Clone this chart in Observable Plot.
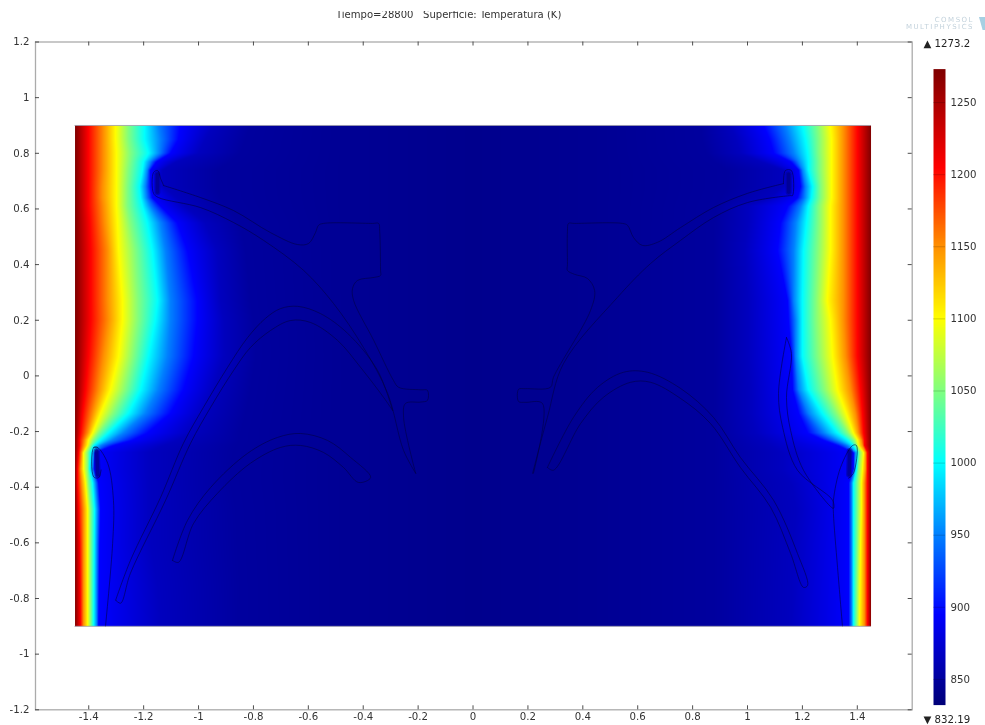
<!DOCTYPE html>
<html><head><meta charset="utf-8">
<script src="https://cdn.jsdelivr.net/npm/d3@7"></script>
<script src="https://cdn.jsdelivr.net/npm/@observablehq/plot@0.6"></script>
<style>
html,body{margin:0;padding:0;background:#fff;width:985px;height:725px;overflow:hidden}
#page{position:relative;width:985px;height:725px;font-family:"DejaVu Sans",sans-serif;filter:blur(.35px)}
#page svg{position:absolute;left:0;top:0;background:transparent}
#title{position:absolute;left:336px;top:11px;height:12px;width:240px;overflow:hidden;font-size:10.05px;color:#333;white-space:pre}
#title span{position:absolute;top:-2.5px;left:0}
.wm{position:absolute;color:#c3d2dc;white-space:pre;font-size:7px;letter-spacing:1.5px;right:11px;line-height:7px}
#logo{position:absolute;left:979px;top:17px;width:6px;height:13px;background:#a6cfe2;clip-path:polygon(0 0,100% 0,100% 100%,60% 100%)}
</style></head><body>
<div id="page">
<div id="title"><span>Tiempo=28800   Superficie: Temperatura (K)</span></div>
<div class="wm" style="top:16.5px">COMSOL</div>
<div class="wm" style="top:23.5px">MULTIPHYSICS</div>
<div id="logo"></div>
</div>
<script>
const tMin = 832.19, tMax = 1273.2;
const xTicks = [-1.4,-1.2,-1,-0.8,-0.6,-0.4,-0.2,0,0.2,0.4,0.6,0.8,1,1.2,1.4];
const yTicks = [-1.2,-1,-0.8,-0.6,-0.4,-0.2,0,0.2,0.4,0.6,0.8,1,1.2];
const barTicks = [850,900,950,1000,1050,1100,1150,1200,1250];

const colorDomain = [832.19,895,950,1000,1050,1100,1150,1205,1273.2];
const colorRange = ["#000078","#0000ff","#0080ff","#00ffff","#80ff80","#ffff00","#ff9000","#ff0000","#7f0000"];

// temperature of each isotherm read across the plate
const isoLevels = [1205,1150,1100,1050,1000,950,895,865,850];
const rowY = [0.9,0.85,0.8,0.77,0.74,0.68,0.64,0.61,0.55,0.45,0.27,0.2,0.07,-0.05,-0.135,-0.205,-0.23,-0.25,-0.275,-0.335,-0.385,-0.48,-0.6,-0.75,-0.9];
// x position of each isotherm, left side
const leftIso = [
[-1.401,-1.346,-1.302,-1.255,-1.197,-1.146,-1.066,-0.945,-0.811],
[-1.401,-1.346,-1.302,-1.255,-1.197,-1.138,-1.073,-0.975,-0.829],
[-1.401,-1.346,-1.299,-1.248,-1.182,-1.142,-1.102,-1.000,-0.847],
[-1.401,-1.346,-1.299,-1.251,-1.200,-1.175,-1.153,-1.080,-0.880],
[-1.401,-1.346,-1.299,-1.255,-1.204,-1.186,-1.175,-1.130,-0.930],
[-1.401,-1.350,-1.299,-1.259,-1.215,-1.193,-1.175,-1.130,-0.930],
[-1.401,-1.350,-1.299,-1.259,-1.211,-1.189,-1.168,-1.080,-0.920],
[-1.401,-1.346,-1.299,-1.259,-1.204,-1.175,-1.138,-1.050,-0.900],
[-1.397,-1.342,-1.295,-1.248,-1.186,-1.138,-1.077,-0.975,-0.847],
[-1.393,-1.331,-1.291,-1.230,-1.168,-1.120,-1.040,-0.931,-0.829],
[-1.393,-1.331,-1.277,-1.219,-1.149,-1.102,-1.004,-0.920,-0.811],
[-1.393,-1.328,-1.277,-1.219,-1.157,-1.102,-1.004,-0.909,-0.800],
[-1.401,-1.346,-1.291,-1.237,-1.182,-1.113,-1.018,-0.909,-0.792],
[-1.412,-1.364,-1.321,-1.266,-1.211,-1.146,-1.055,-0.945,-0.811],
[-1.423,-1.386,-1.357,-1.310,-1.255,-1.193,-1.102,-0.982,-0.829],
[-1.430,-1.404,-1.386,-1.364,-1.328,-1.273,-1.186,-1.029,-0.847],
[-1.434,-1.415,-1.401,-1.382,-1.357,-1.313,-1.237,-1.077,-0.847],
[-1.434,-1.419,-1.404,-1.393,-1.382,-1.357,-1.310,-1.127,-0.865],
[-1.437,-1.426,-1.419,-1.404,-1.393,-1.382,-1.377,-1.175,-0.875],
[-1.441,-1.430,-1.419,-1.404,-1.397,-1.386,-1.380,-1.175,-0.883],
[-1.441,-1.426,-1.412,-1.401,-1.386,-1.375,-1.364,-1.175,-0.883],
[-1.437,-1.419,-1.404,-1.393,-1.379,-1.368,-1.357,-1.175,-0.865],
[-1.433,-1.419,-1.404,-1.393,-1.380,-1.370,-1.360,-1.175,-0.860],
[-1.431,-1.419,-1.404,-1.393,-1.381,-1.371,-1.362,-1.150,-0.850],
[-1.430,-1.419,-1.404,-1.393,-1.382,-1.371,-1.364,-1.138,-0.847]
];
// x position of each isotherm, right side
const rightIso = [
[1.401,1.350,1.302,1.255,1.200,1.138,1.058,0.938,0.829],
[1.401,1.350,1.306,1.259,1.211,1.153,1.080,0.960,0.832],
[1.401,1.350,1.306,1.259,1.219,1.168,1.095,0.975,0.847],
[1.401,1.350,1.306,1.262,1.222,1.186,1.157,1.050,0.875],
[1.401,1.350,1.306,1.262,1.222,1.200,1.186,1.130,0.920],
[1.401,1.350,1.306,1.266,1.237,1.211,1.193,1.130,0.920],
[1.401,1.350,1.306,1.266,1.233,1.208,1.182,1.080,0.900],
[1.401,1.350,1.302,1.259,1.222,1.193,1.146,1.000,0.883],
[1.401,1.350,1.302,1.259,1.215,1.175,1.120,1.000,0.875],
[1.401,1.350,1.302,1.255,1.204,1.168,1.109,0.990,0.875],
[1.401,1.350,1.291,1.248,1.200,1.168,1.146,1.000,0.875],
[1.401,1.350,1.302,1.248,1.200,1.175,1.149,1.000,0.875],
[1.401,1.357,1.310,1.255,1.200,1.175,1.160,1.000,0.875],
[1.412,1.375,1.328,1.277,1.222,1.186,1.164,1.011,0.875],
[1.419,1.393,1.360,1.321,1.273,1.222,1.186,1.011,0.875],
[1.423,1.404,1.386,1.364,1.328,1.277,1.219,1.029,0.875],
[1.426,1.415,1.401,1.386,1.364,1.321,1.273,1.060,0.875],
[1.426,1.419,1.404,1.397,1.386,1.364,1.328,1.084,0.875],
[1.437,1.430,1.423,1.408,1.401,1.393,1.386,1.120,0.875],
[1.437,1.430,1.419,1.404,1.397,1.390,1.386,1.120,0.875],
[1.437,1.426,1.415,1.401,1.386,1.379,1.368,1.157,0.875],
[1.437,1.426,1.415,1.401,1.386,1.379,1.368,1.175,0.875],
[1.437,1.426,1.412,1.400,1.386,1.379,1.368,1.165,0.875],
[1.437,1.426,1.410,1.398,1.386,1.379,1.368,1.160,0.875],
[1.437,1.426,1.408,1.397,1.386,1.379,1.368,1.157,0.875]
];
const wallX = 1.45;
const midX = [0.45,0];
const midT = [845,842];

// dark spots in the notches
const notchSpots = [
 {x:[-1.371,-1.367],y:[-0.27,-0.355]},
 {x:[1.372,1.370],y:[-0.27,-0.355]},
 {x:[-1.150,-1.150],y:[0.725,0.66]},
 {x:[1.150,1.150],y:[0.725,0.66]}
];
const notchPts = notchSpots.flatMap((o,k)=>o.x.map((x,i)=>({k,x,y:o.y[i]})));

const rowOrder = rowY.map(y=>-y);
function field(x,y){
  const table = x<0 ? leftIso : rightIso, ax = Math.abs(x);
  let r = d3.bisectRight(rowOrder,-y)-1;
  r = Math.max(0,Math.min(rowY.length-2,r));
  const f = (rowY[r]-y)/(rowY[r]-rowY[r+1]);
  let px = wallX, pt = tMax;
  if (ax>=px) return pt;
  for (let i=0;i<isoLevels.length+midX.length;i++){
    let qx,qt;
    if (i<isoLevels.length){
      qx = Math.abs(table[r][i])*(1-f)+Math.abs(table[r+1][i])*f; qt = isoLevels[i];
    } else { qx = midX[i-isoLevels.length]; qt = midT[i-isoLevels.length]; }
    if (ax>=qx) return qt+(pt-qt)*(ax-qx)/(px-qx);
    px=qx; pt=qt;
  }
  return pt;
}

// geometry outlines
const outlines = [
 {x:[-1.127,-1.138,-1.149,-1.164,-1.164,-1.146,-0.993,-0.872,-0.763,-0.617,-0.508,-0.399,-0.311,-0.253,-0.209],
  y:[0.684,0.709,0.738,0.731,0.656,0.641,0.605,0.551,0.487,0.379,0.260,0.102,-0.063,-0.268,-0.350]},
 {x:[-1.127,-0.993,-0.872,-0.738,-0.639,-0.599,-0.574,-0.563,-0.545,-0.366,-0.344,-0.340,-0.337,-0.337,-0.360,-0.421,-0.439,-0.435,-0.362,-0.290,-0.271,-0.190,-0.166,-0.166,-0.190,-0.246,-0.253,-0.209],
  y:[0.684,0.641,0.594,0.515,0.472,0.476,0.515,0.541,0.548,0.548,0.548,0.520,0.380,0.361,0.354,0.343,0.314,0.271,0.128,-0.016,-0.041,-0.050,-0.052,-0.088,-0.094,-0.099,-0.149,-0.350]},
 {x:[-1.302,-1.248,-1.138,-1.055,-0.982,-0.894,-0.821,-0.756,-0.701,-0.639,-0.556,-0.457,-0.348,-0.293],
  y:[-0.806,-0.663,-0.436,-0.242,-0.113,0.031,0.138,0.207,0.242,0.250,0.224,0.153,0.020,-0.124]},
 {x:[-1.302,-1.284,-1.248,-1.120,-1.029,-0.956,-0.872,-0.811,-0.738,-0.665,-0.592,-0.494,-0.410,-0.326,-0.293],
  y:[-0.806,-0.817,-0.709,-0.447,-0.242,-0.113,0.020,0.102,0.163,0.199,0.192,0.128,0.031,-0.077,-0.124]},
 {x:[-1.095,-1.040,-0.956,-0.821,-0.712,-0.628,-0.530,-0.446,-0.373,-0.417,-0.472,-0.545,-0.628,-0.701,-0.811,-0.931,-1.018,-1.073,-1.095],
  y:[-0.663,-0.519,-0.401,-0.278,-0.221,-0.207,-0.232,-0.293,-0.365,-0.383,-0.329,-0.275,-0.250,-0.257,-0.314,-0.422,-0.530,-0.670,-0.663]},
 {x:[-1.382,-1.368,-1.331,-1.310,-1.313,-1.339],
  y:[-0.257,-0.257,-0.314,-0.447,-0.602,-0.9]},
 {x:[-1.368,-1.382,-1.382,-1.364,-1.355],
  y:[-0.257,-0.257,-0.363,-0.366,-0.338]},
 {x:[0.217,0.271,0.330,0.526,0.647,0.756,0.876,1.000,1.157,1.164,1.160,1.138,1.131],
  y:[-0.350,-0.149,0.045,0.282,0.404,0.487,0.569,0.623,0.648,0.648,0.738,0.738,0.691]},
 {x:[1.131,1.000,0.876,0.756,0.672,0.617,0.585,0.563,0.545,0.370,0.348,0.344,0.344,0.344,0.370,0.417,0.443,0.428,0.293,0.282,0.190,0.166,0.166,0.190,0.253,0.220],
  y:[0.691,0.656,0.605,0.533,0.480,0.469,0.497,0.541,0.548,0.548,0.548,0.520,0.400,0.379,0.365,0.350,0.307,0.235,-0.005,-0.041,-0.046,-0.048,-0.092,-0.095,-0.099,-0.350]},
 {x:[0.271,0.366,0.454,0.548,0.636,0.756,0.876,0.974,1.095,1.182,1.219,1.204,1.157,1.084,0.974,0.865,0.756,0.647,0.574,0.475,0.392,0.293,0.271],
  y:[-0.329,-0.149,-0.041,0.013,0.013,-0.045,-0.149,-0.293,-0.447,-0.638,-0.753,-0.760,-0.638,-0.472,-0.329,-0.171,-0.081,-0.023,-0.023,-0.077,-0.171,-0.339,-0.329]},
 {x:[1.142,1.113,1.128,1.182,1.310,1.313,1.204,1.157,1.142,1.160,1.142],
  y:[0.138,-0.063,-0.185,-0.339,-0.447,-0.476,-0.339,-0.196,-0.077,0.081,0.138]},
 {x:[1.346,1.328,1.313,1.313,1.339,1.383,1.397,1.386,1.368],
  y:[-0.9,-0.688,-0.494,-0.447,-0.329,-0.250,-0.250,-0.350,-0.368]}
];
const outlinePts = outlines.flatMap((o,k)=>o.x.map((x,i)=>({k,x,y:o.y[i]})));

const xDom = [-1.594,1.6], yDom = [-1.2,1.2];
const tickLenX = 0.0146, tickLenY = 0.0144;
const color = {type:"linear",domain:colorDomain,range:colorRange,clamp:true};
const grid = "#ababab", tickCol = "#3a3a3a";

const main = Plot.plot({
  width:985,height:725,
  marginLeft:35,marginRight:73.3,marginTop:41.5,marginBottom:15.7,
  style:{background:"transparent",fontFamily:"DejaVu Sans",fontSize:"10.2px",color:"#333"},
  x:{domain:xDom,label:null},
  y:{domain:yDom,label:null},
  color,
  marks:[
    Plot.raster({fill:field,x1:-1.45,x2:1.45,y1:-0.9,y2:0.9,pixelSize:1}),
    Plot.line(notchPts,{x:"x",y:"y",z:"k",stroke:"#00008c",strokeWidth:6,strokeOpacity:.45,strokeLinecap:"round"}),
    Plot.line(notchPts,{x:"x",y:"y",z:"k",stroke:"#00008c",strokeWidth:3.5,strokeOpacity:.7,strokeLinecap:"round"}),
    Plot.line(outlinePts,{x:"x",y:"y",z:"k",curve:"catmull-rom",stroke:"#000044",strokeWidth:1,strokeOpacity:.58}),
    Plot.ruleY([0.9,-0.9],{x1:-1.45,x2:1.45,y:d=>d,stroke:"#9a9aa8",strokeWidth:.8}),
    Plot.frame({stroke:grid,strokeWidth:1.3}),
    Plot.ruleX(xTicks,{x:d=>d,y1:-1.2,y2:-1.2+tickLenY,stroke:tickCol,strokeWidth:.9}),
    Plot.ruleX(xTicks,{x:d=>d,y1:1.2,y2:1.2-tickLenY,stroke:tickCol,strokeWidth:.9}),
    Plot.ruleY(yTicks,{y:d=>d,x1:xDom[0],x2:xDom[0]+tickLenX,stroke:tickCol,strokeWidth:.9}),
    Plot.ruleY(yTicks,{y:d=>d,x1:xDom[1],x2:xDom[1]-tickLenX,stroke:tickCol,strokeWidth:.9}),
    Plot.axisX({anchor:"bottom",ticks:xTicks,tickSize:0,tickPadding:3,tickFormat:d=>String(d),label:null}),
    Plot.axisY({anchor:"left",ticks:yTicks,tickSize:0,tickPadding:6,tickFormat:d=>String(d),label:null})
  ]
});
document.getElementById("page").append(main);

const bar = Plot.plot({
  width:985,height:725,
  marginLeft:933,marginRight:40,marginTop:68.6,marginBottom:20.4,
  style:{background:"transparent",fontFamily:"DejaVu Sans",fontSize:"10.2px",color:"#333"},
  x:{domain:[0,1],axis:null},
  y:{domain:[tMin,tMax],label:null},
  color,
  marks:[
    Plot.raster({fill:(x,y)=>y,x1:0,x2:1,y1:tMin,y2:tMax,width:2,height:441}),
    Plot.ruleY(barTicks,{y:d=>d,x1:0,x2:1,stroke:"#000",strokeOpacity:.22,strokeWidth:.8}),
    Plot.axisY({anchor:"right",ticks:barTicks,tickSize:0,tickPadding:5,tickFormat:d=>String(d),label:null}),
    Plot.text([tMax],{x:0,y:d=>d,text:d=>"▲ "+d,textAnchor:"start",dx:-10,dy:-25.5,fill:"#222"}),
    Plot.text([tMin],{x:0,y:d=>d,text:d=>"▼ "+d,textAnchor:"start",dx:-10,dy:14.5,fill:"#222"})
  ]
});
document.getElementById("page").append(bar);
</script>
</body></html>
